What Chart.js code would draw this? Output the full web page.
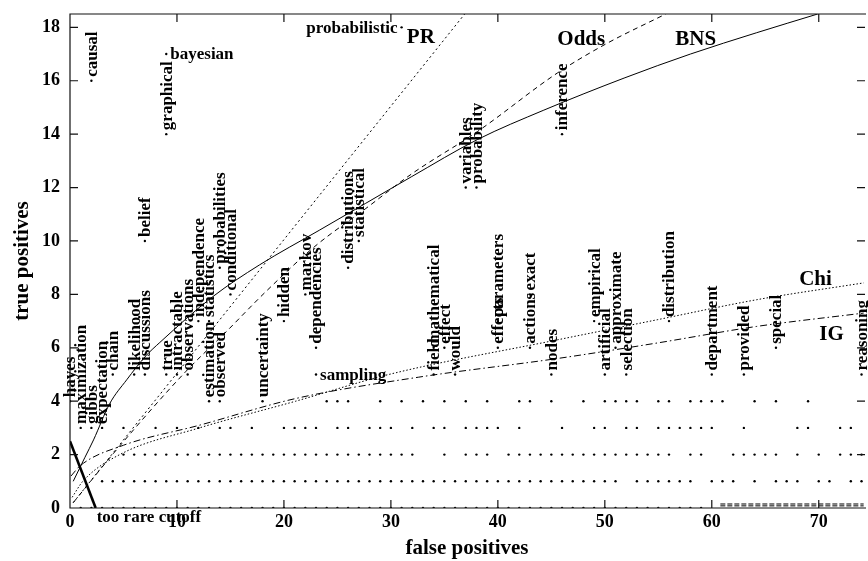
<!DOCTYPE html>
<html>
<head>
<meta charset="utf-8">
<script src="https://cdn.jsdelivr.net/npm/chart.js@4/dist/chart.umd.min.js"></script>
<style>
  html, body { margin: 0; padding: 0; background: #fff; }
</style>
</head>
<body>
<canvas id="chart" width="868" height="561"></canvas>
<script>
// axis ticks
const xTickValues = [0, 10, 20, 30, 40, 50, 60, 70];
const yTickValues = [0, 2, 4, 6, 8, 10, 12, 14, 16, 18];

// unlabelled words, one row per true-positive count (false positive values)
const row0 = [1,2,3,4,5,6,7,8,9,10,11,12,13,14,15,16,17,18,19,20,21,22,23,24,25,26,27,28,29,30,31,32,33,34,35,36,37,38,39,40,41,42,43,44,45,46,47,48,49,50,51,52,53,54,55,56,57,58,59];
const row1 = [3,4,5,6,7,8,9,10,11,12,13,14,15,16,17,18,19,20,21,22,23,24,25,26,27,28,29,30,31,32,33,34,35,36,37,38,39,40,41,42,43,44,45,46,47,48,49,50,51,53,54,55,56,57,58,60,61,62,64,66,67,68,70,71,73,74];
const row2 = [5,6,7,8,9,10,11,12,13,14,15,16,17,18,19,20,21,22,23,24,25,26,27,28,29,30,31,32,35,37,38,39,41,42,43,44,45,46,47,48,49,50,51,52,53,54,55,56,58,59,62,63,64,65,66,68,70,72,73,74];
const row3 = [5,8,10,12,14,15,17,20,21,22,23,25,26,28,29,30,32,34,35,37,38,39,40,42,46,49,50,52,53,55,56,57,58,59,60,63,68,69,72,73];
const row4 = [24,25,26,29,31,33,35,37,39,42,43,45,48,50,51,52,53,55,56,58,59,60,61,64,66,69];

// labelled words
const words = ['causal','bayesian','graphical','probabilistic','inference','variables','probability',
  'distributions','statistical','belief','conditional','independence','statistics','probabilities',
  'estimation','observed','true','intractable','observations','discussions','likelihood','chain',
  'expectation','gibbs','maximization','hayes','uncertainty','hidden','markov','dependencies','sampling',
  'field','mathematical','effect','would','effects','parameters','actions','exact','nodes','empirical',
  'artificial','approximate','selection','distribution','department','provided','special','reasoning'];
const wordFp = [2, 9, 9, 31, 46, 37, 38,
  26, 27, 7, 15, 12, 13, 14,
  13, 14, 9, 10, 11, 7, 6, 4,
  3, 2, 1, 0, 18, 20, 22, 23, 23,
  34, 34, 35, 36, 40, 40, 43, 43, 45, 49,
  50, 51, 52, 56, 60, 63, 66, 74];
const wordTp = [16, 17, 14, 18, 14, 12, 12,
  9, 10, 10, 8, 7, 7, 9,
  4, 4, 5, 5, 5, 5, 5, 5,
  3, 3, 3, 4, 4, 7, 8, 6, 5,
  5, 6, 6, 5, 6, 7, 6, 8, 5, 7,
  5, 6, 5, 7, 5, 5, 6, 5];
const flatWords = ['bayesian', 'sampling', 'probabilistic'];
const leftWords = ['probabilistic'];

// iso-curves of the metrics
const prFp = [0.3, 14, 23.3, 36.9];
const prTp = [0.2, 7.05, 11.7, 18.5];
const oddsFp = [0.3, 4.6, 10.8, 14.6, 18.3, 22.9, 27.6, 31.9, 38.1, 45.6, 50.2, 55.7];
const oddsTp = [0.2, 2.3, 5.1, 6.6, 8.1, 9.8, 11.2, 12.5, 14.1, 16.3, 17.4, 18.5];
const bnsFp = [0.3, 1.4, 2.2, 3.7, 5.3, 7.1, 8.4, 13.3, 17.7, 23.3, 27.6, 31.9, 38.1, 44.3, 51.8, 58.0, 64.2, 69.9];
const bnsTp = [1.0, 1.9, 2.55, 3.9, 4.8, 5.7, 6.2, 7.9, 9.1, 10.4, 11.4, 12.4, 13.8, 14.9, 16.1, 17.0, 17.8, 18.5];
const chiFp = [0.2, 1.2, 4.65, 12.1, 21.1, 29.8, 45.6, 54.9, 64.2, 74.2];
const chiTp = [0.4, 1.0, 2.0, 3.0, 4.0, 5.0, 6.3, 7.05, 7.8, 8.43];
const igFp = [0.1, 1.0, 5.0, 12.1, 21.1, 32.6, 45.6, 54.9, 64.2, 74.2];
const igTp = [1.2, 1.6, 2.35, 3.1, 4.1, 4.9, 5.6, 6.18, 6.8, 7.3];
const cutoffFp = [0, 2.4];
const cutoffTp = [2.5, 0];
const tailFp = [60.8, 74.2];
const tailTpA = [0.15, 0.15];
const tailTpB = [0.08, 0.08];

// curve names
const curveNames = ['PR', 'Odds', 'BNS', 'Chi', 'IG'];
const curveNameFp = [32.8, 47.8, 58.5, 69.7, 71.2];
const curveNameTp = [17.6, 17.55, 17.55, 8.54, 6.5];

const SERIF = '"Liberation Serif", "DejaVu Serif", serif';

function pts(xs, ys) { return xs.map((v, i) => ({ x: v, y: ys[i] })); }
function row(xs, tp) { return xs.map(v => ({ x: v, y: tp })); }

function dots(data) {
  return { data, pointRadius: 1.2, pointBackgroundColor: '#000', pointBorderWidth: 0, showLine: false };
}
function curve(data, dash, width) {
  return { data, showLine: true, pointRadius: 0, borderColor: '#000', borderWidth: width || 1,
    borderDash: dash, cubicInterpolationMode: 'monotone', fill: false };
}

const framePlugin = {
  id: 'frame',
  afterDraw(chart) {
    const { ctx, chartArea: a, scales: { x, y } } = chart;
    ctx.save();
    ctx.strokeStyle = '#111';
    ctx.lineWidth = 1.2;
    ctx.beginPath();
    ctx.moveTo(a.right + 2, a.top); ctx.lineTo(a.left, a.top);
    ctx.lineTo(a.left, a.bottom); ctx.lineTo(a.right + 2, a.bottom);
    xTickValues.forEach(v => {
      const px = x.getPixelForValue(v);
      ctx.moveTo(px, a.bottom); ctx.lineTo(px, a.bottom - 8);
      ctx.moveTo(px, a.top); ctx.lineTo(px, a.top + 8);
    });
    yTickValues.forEach(v => {
      const py = y.getPixelForValue(v);
      ctx.moveTo(a.left, py); ctx.lineTo(a.left + 8, py);
      ctx.moveTo(a.right + 1, py); ctx.lineTo(a.right - 7, py);
    });
    ctx.stroke();
    ctx.restore();
  }
};

const labelPlugin = {
  id: 'wordLabels',
  afterDatasetsDraw(chart) {
    const { ctx, scales: { x, y } } = chart;
    ctx.save();
    ctx.fillStyle = '#000';
    ctx.font = 'bold 17px ' + SERIF;
    words.forEach((w, i) => {
      const px = x.getPixelForValue(wordFp[i]);
      const py = y.getPixelForValue(wordTp[i]);
      if (flatWords.includes(w)) {
        ctx.textBaseline = 'middle';
        if (leftWords.includes(w)) {
          ctx.textAlign = 'right';
          ctx.fillText(w, px - 4, py + 1);
        } else {
          ctx.textAlign = 'left';
          ctx.fillText(w, px + 4, py + 1);
        }
      } else {
        ctx.save();
        ctx.translate(px + 1, py - 4);
        ctx.rotate(-Math.PI / 2);
        ctx.textAlign = 'left';
        ctx.textBaseline = 'middle';
        ctx.fillText(w, 0, 0);
        ctx.restore();
      }
    });
    // cutoff label
    ctx.textAlign = 'left';
    ctx.textBaseline = 'alphabetic';
    ctx.fillText('too rare cutoff', x.getPixelForValue(cutoffFp[1]) + 1, y.getPixelForValue(0) + 13.5);
    // curve names
    ctx.font = 'bold 21px ' + SERIF;
    ctx.textAlign = 'center';
    ctx.textBaseline = 'middle';
    curveNames.forEach((n, i) => {
      ctx.fillText(n, x.getPixelForValue(curveNameFp[i]), y.getPixelForValue(curveNameTp[i]));
    });
    ctx.restore();
  }
};

const tickFont = { family: SERIF, size: 18, weight: 'bold' };
const titleFont = { family: SERIF, size: 21, weight: 'bold' };

new Chart(document.getElementById('chart').getContext('2d'), {
  type: 'scatter',
  data: {
    datasets: [
      dots(row(row0, 0)), dots(row(row1, 1)), dots(row(row2, 2)), dots(row(row3, 3)), dots(row(row4, 4)),
      dots(pts(wordFp, wordTp)),
      curve(pts(prFp, prTp), [2, 3]),
      curve(pts(oddsFp, oddsTp), [5, 4]),
      curve(pts(bnsFp, bnsTp), []),
      curve(pts(chiFp, chiTp), [1.5, 2]),
      curve(pts(igFp, igTp), [7, 3, 1.5, 3]),
      curve(pts(cutoffFp, cutoffTp), [], 2.6),
      curve(pts(tailFp, tailTpA), [5, 2]),
      curve(pts(tailFp, tailTpB), [5, 2])
    ]
  },
  options: {
    responsive: false,
    animation: false,
    layout: { padding: { top: 14, left: 0, right: 0, bottom: 0 } },
    plugins: { legend: { display: false }, tooltip: { enabled: false } },
    scales: {
      x: {
        type: 'linear', min: 0, max: 74.23,
        grid: { display: false, drawTicks: false },
        border: { display: false },
        ticks: { color: '#000', font: tickFont, padding: 4, maxRotation: 0, includeBounds: false },
        title: { display: true, text: 'false positives', color: '#000', font: titleFont, padding: { top: 0, bottom: 0 } },
        afterBuildTicks: s => { s.ticks = xTickValues.map(v => ({ value: v })); },
        afterFit: s => { s.height = 53; s.paddingLeft = 0; s.paddingRight = 0; }
      },
      y: {
        type: 'linear', min: 0, max: 18.5,
        grid: { display: false, drawTicks: false },
        border: { display: false },
        ticks: { color: '#000', font: tickFont, padding: 10, includeBounds: false },
        title: { display: true, text: 'true positives', color: '#000', font: titleFont, padding: { top: 10, bottom: 0 } },
        afterBuildTicks: s => { s.ticks = yTickValues.map(v => ({ value: v })); },
        afterFit: s => { s.width = 70; s.paddingTop = 0; s.paddingBottom = 0; }
      }
    }
  },
  plugins: [framePlugin, labelPlugin]
});
</script>
</body>
</html>
